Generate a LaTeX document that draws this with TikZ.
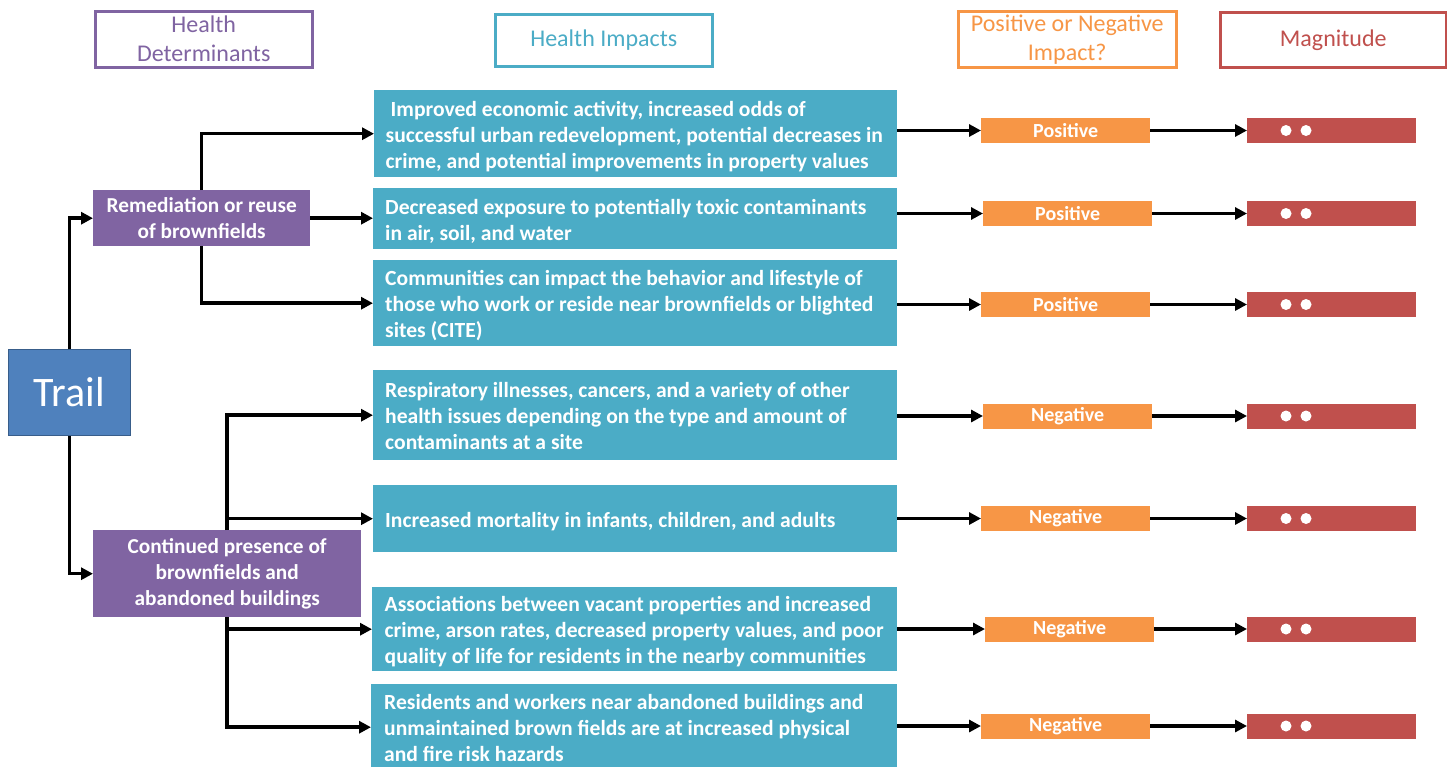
\documentclass[tikz,border=0pt]{standalone}
\usepackage{fontspec}
\setmainfont{Carlito}
\usetikzlibrary{arrows.meta,calc}
\definecolor{cpurple}{HTML}{8064A2}
\definecolor{cteal}{HTML}{4BACC6}
\definecolor{corange}{HTML}{F79646}
\definecolor{cred}{HTML}{C0504D}
\definecolor{cblue}{HTML}{4F81BD}
\definecolor{cblueedge}{HTML}{385D8A}
\newcommand{\impbox}[1]{\raisebox{-3.5pt}[\height][\depth]{\makebox[500pt][l]{\begin{tabular}{@{}l@{}}#1\end{tabular}}}}
\begin{document}
\begin{tikzpicture}[x=1pt,y=-1pt,
  hdr/.style={draw,line width=2.5pt,fill=white,inner sep=0pt,anchor=north west,align=center,font=\fontsize{24}{29}\selectfont},
  det/.style={fill=cpurple,text=white,inner sep=0pt,anchor=north west,align=center,font=\bfseries\fontsize{21.3}{26}\selectfont},
  imp/.style={fill=cteal,text=white,inner xsep=10pt,inner ysep=0pt,anchor=north west,font=\bfseries\fontsize{21.6}{26}\selectfont},
  sign/.style={fill=corange,text=white,anchor=west,minimum width=169pt,minimum height=25pt,inner sep=0pt,font=\bfseries\fontsize{20}{24}\selectfont},
  mag/.style={fill=cred,anchor=west,minimum width=169pt,minimum height=25pt,inner sep=0pt},
  arr/.style={line width=3.5pt,-{Triangle[length=12pt,width=12pt]}}]
\useasboundingbox (0,0) rectangle (1447,766);
\fill[white] (0,0) rectangle (1447,766);

% headers
\node[hdr,draw=cpurple,text=cpurple,minimum width=217pt,minimum height=56pt] (h1) at (94,10) {Health\\Determinants};
\node[hdr,draw=cteal,text=cteal,minimum width=217pt,minimum height=52pt] (h2) at (494,13) {Health Impacts};
\node[hdr,draw=corange,text=corange,minimum width=218pt,minimum height=56pt] (h3) at (957,10) {Positive or Negative\\Impact?};
\node[hdr,draw=cred,text=cred,minimum width=226pt,minimum height=55pt] (h4) at (1219,11) {Magnitude};

% trail and determinants
\node[fill=cblue,draw=cblueedge,line width=1pt,text=white,font=\fontsize{42}{50}\selectfont,minimum width=122pt,minimum height=86pt,inner sep=0pt,anchor=north west] (trail) at (8,349) {Trail};
\node[det,minimum width=217pt,minimum height=56pt] (rem) at (93,190) {Remediation or reuse\\of brownfields};
\node[det,minimum width=268pt,minimum height=87pt] (cont) at (93,530) {Continued presence of\\brownfields and\\abandoned buildings};

% impacts
\node[imp,minimum width=523pt,minimum height=87pt] (i1) at (374,90) {\impbox{\hspace{5pt}Improved economic activity, increased odds of\\successful urban redevelopment, potential decreases in\\crime, and potential improvements in property values}};
\node[imp,minimum width=524pt,minimum height=61pt] (i2) at (373,188) {\impbox{Decreased exposure to potentially toxic contaminants\\in air, soil, and water}};
\node[imp,minimum width=524pt,minimum height=86pt] (i3) at (373,260) {\impbox{Communities can impact the behavior and lifestyle of\\those who work or reside near brownfields or blighted\\sites (CITE)}};
\node[imp,minimum width=524pt,minimum height=90pt] (i4) at (373,370) {\impbox{Respiratory illnesses, cancers, and a variety of other\\health issues depending on the type and amount of\\contaminants at a site}};
\node[imp,minimum width=524pt,minimum height=67pt] (i5) at (373,485) {\impbox{Increased mortality in infants, children, and adults}};
\node[imp,minimum width=525pt,minimum height=84pt] (i6) at (372,587) {\impbox{Associations between vacant properties and increased\\crime, arson rates, decreased property values, and poor\\quality of life for residents in the nearby communities}};
\node[imp,minimum width=526pt,minimum height=86pt] (i7) at (371,684) {\impbox{Residents and workers near abandoned buildings and\\unmaintained brown fields are at increased physical\\and fire risk hazards}};

% left connectors
\draw[arr] (trail.north) |- (rem.west);
\draw[arr] (trail.south) |- (cont.west);
\draw[arr] (rem.north) |- (i1.west);
\draw[arr] (rem.east) -- (rem.east -| i2.west);
\draw[arr] (rem.south) |- (i3.west);
\draw[arr] (cont.north) |- (i4.west);
\draw[arr] (cont.north |- i5.west) -- (i5.west);
\draw[arr] (cont.south |- i6.west) -- (i6.west);
\draw[arr] (cont.south) |- (i7.west);

% sign and magnitude
\foreach \k/\yc/\lab/\px in {1/130.5/Positive/981, 2/213.5/Positive/983, 3/304.5/Positive/981, 4/416/Negative/983, 5/518.5/Negative/981, 6/629/Negative/985, 7/726/Negative/981}{
  \node[sign] (p\k) at (\px,\yc) {\lab\hspace{27pt}};
  \node[mag] (m\k) at (1247,\yc) {};
  \fill[white] ($(m\k.west)+(39,0)$) circle[radius=5.5pt];
  \fill[white] ($(m\k.west)+(59,0)$) circle[radius=5.5pt];
  \draw[arr] (i\k.east |- p\k.west) -- (p\k.west);
  \draw[arr] (p\k.east) -- (m\k.west);
}
\end{tikzpicture}
\end{document}
